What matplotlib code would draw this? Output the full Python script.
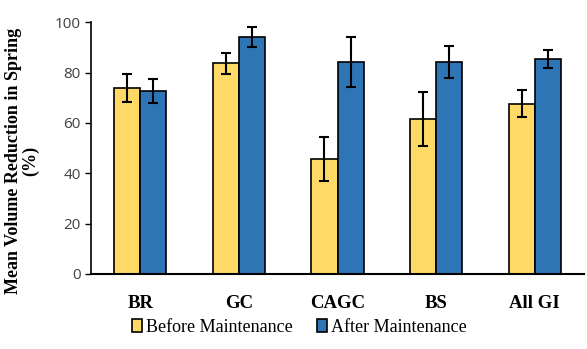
import matplotlib.pyplot as plt
import numpy as np

categories = ["BR", "GC", "CAGC", "BS", "All GI"]
before = [74.0, 83.7, 45.7, 61.7, 67.6]
before_err = [5.5, 4.2, 8.7, 10.7, 5.4]
after = [72.7, 94.0, 84.2, 84.2, 85.3]
after_err = [4.9, 4.0, 9.9, 6.3, 3.6]

yellow = "#FFD966"
blue = "#2E75B6"

fig = plt.figure(figsize=(5.87, 3.49), dpi=100)
ax = fig.add_axes([0.155, 0.215, 0.84, 0.721])

x = np.arange(len(categories))
w = 0.265
err_kw = dict(elinewidth=1.5, capsize=3.5, capthick=1.5, ecolor="black")
ax.bar(x - w / 2, before, w, yerr=before_err, color=yellow, edgecolor="black",
       linewidth=1.2, error_kw=err_kw, label="Before Maintenance")
ax.bar(x + w / 2, after, w, yerr=after_err, color=blue, edgecolor="black",
       linewidth=1.2, error_kw=err_kw, label="After Maintenance")

ax.set_xlim(-0.5, 4.5)
ax.set_ylim(0, 100)
ax.set_yticks([0, 20, 40, 60, 80, 100])
ax.set_xticks(x)
ax.set_xticklabels(categories, fontfamily="Liberation Serif", fontweight="bold", fontsize=13.5)
for lbl in ax.get_yticklabels():
    lbl.set_fontfamily("Open Sans")
    lbl.set_fontsize(11)
    lbl.set_color("#404040")
ax.tick_params(axis="x", length=0, pad=15)
ax.tick_params(axis="y", length=4, width=1)

ax.spines["top"].set_visible(False)
ax.spines["right"].set_visible(False)
ax.spines["left"].set_linewidth(1.2)
ax.spines["bottom"].set_linewidth(1.5)

ax.set_ylabel("Mean Volume Reduction in Spring\n(%)", fontfamily="Liberation Serif",
              fontweight="bold", fontsize=13, linespacing=1.0)
ax.yaxis.set_label_coords(-0.105, 0.448)

fig.legend(loc="lower center", bbox_to_anchor=(0.51, -0.008), ncol=2, frameon=False,
           prop={"family": "Liberation Serif", "size": 13}, handlelength=0.55,
           handleheight=0.75, handletextpad=0.25, columnspacing=1.3)

fig.savefig("out.png", dpi=100)
